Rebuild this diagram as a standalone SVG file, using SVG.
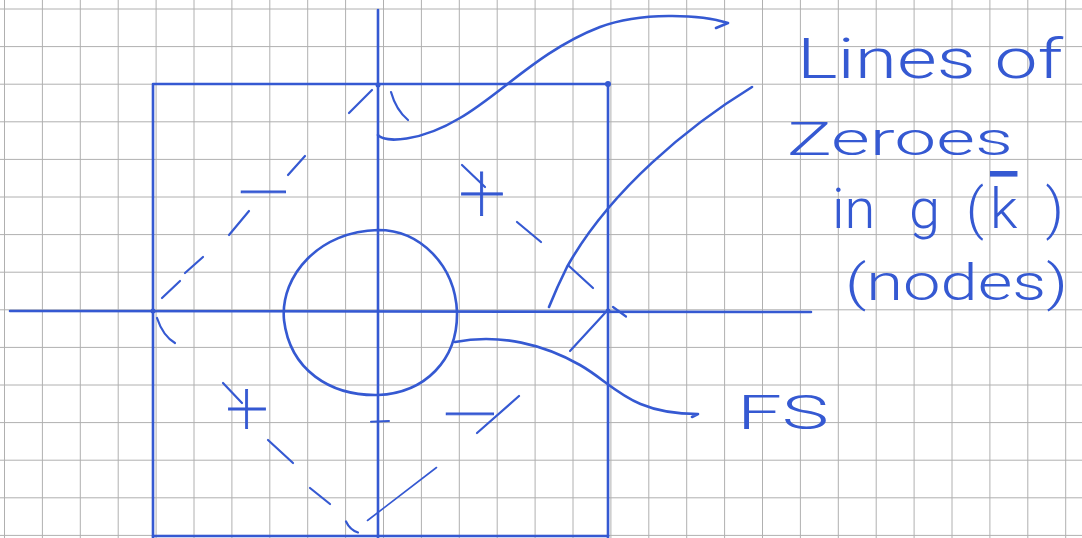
<svg xmlns="http://www.w3.org/2000/svg" width="1082" height="538" viewBox="0 0 1082 538">
  <style>
    .grid { stroke: #b0b0b0; stroke-width: 1; fill: none; }
    .ink { stroke: #3559d2; fill: none; stroke-linecap: round; stroke-linejoin: round; }
    .axis { stroke-width: 2.6; }
    .curve { stroke-width: 2.6; }
    .dash { stroke-width: 2.2; }
    .thin { stroke-width: 1.6; }
    .lbl { fill: #3559d2; font-family: Roboto, "Liberation Sans", sans-serif; font-weight: 300; }
    .sign { fill: #3559d2; stroke: #3559d2; stroke-width: 0.8; font-family: Roboto, "Liberation Sans", sans-serif; font-weight: 100; }
  </style>
  <rect width="1082" height="538" fill="#ffffff"/>
  <g id="grid">
    <path class="grid" d="M4.5 0V538M42.4 0V538M80.3 0V538M118.2 0V538M156.1 0V538M194 0V538M231.9 0V538M269.8 0V538M307.7 0V538M345.6 0V538M383.5 0V538M421.4 0V538M459.3 0V538M497.2 0V538M535.1 0V538M573 0V538M610.9 0V538M648.8 0V538M686.7 0V538M724.6 0V538M762.5 0V538M800.4 0V538M838.3 0V538M876.2 0V538M914.1 0V538M952 0V538M989.9 0V538M1027.8 0V538M1065.7 0V538"/>
    <path class="grid" d="M0 9H1082M0 46.6H1082M0 84.2H1082M0 121.8H1082M0 159.4H1082M0 197H1082M0 234.6H1082M0 272.2H1082M0 309.8H1082M0 347.4H1082M0 385H1082M0 422.6H1082M0 460.2H1082M0 497.8H1082M0 535.4H1082"/>
  </g>
  <g id="axes">
    <path class="ink axis" d="M378 10 L378 538"/>
    <path class="ink axis" d="M10 311 L811 312"/>
    <path class="ink" stroke-width="2" d="M371 421.7 L389 421"/>
  </g>
  <g id="zone">
    <path class="ink axis" d="M153 538 L153 84 L608 84 L608 538"/>
    <path class="ink axis" d="M153 536 L608 536"/>
    <circle cx="608" cy="84" r="3" fill="#3559d2"/>
    <circle cx="378" cy="85" r="2.5" fill="#3559d2"/>
    <circle cx="153" cy="311" r="2.5" fill="#3559d2"/>
    <circle cx="608" cy="311" r="2.5" fill="#3559d2"/>
  </g>
  <g id="fermi-surface">
    <path class="ink curve" d="M378 230 C420 230, 455 265, 457 312 C458 360, 425 393, 378 395 C330 396, 290 370, 284 320 C280 275, 320 231, 378 230 Z"/>
  </g>
  <g id="nodal-lines">
    <path class="ink dash" d="M372 90 L349 113"/>
    <path class="ink dash" d="M391 92 Q396 110 408 120"/>
    <path class="ink dash" d="M305 156 L288 175"/>
    <path class="ink dash" d="M249 211 L229 235"/>
    <path class="ink dash" d="M203 257 L185 273"/>
    <path class="ink dash" d="M180 281 L162 298"/>
    <path class="ink dash" d="M157 318 Q163 336 175 343"/>
    <path class="ink dash" d="M462 165 L485 187"/>
    <path class="ink dash" d="M517 222 L541 242"/>
    <path class="ink dash" d="M569 266 L593 288"/>
    <path class="ink dash" d="M613 307 L626 316.5"/>
    <path class="ink dash" d="M605 313 L570 351"/>
    <path class="ink dash" d="M519 396 L477 433"/>
    <path class="ink thin" d="M367.5 520.5 L436.5 467.5"/>
    <path class="ink dash" d="M223 383 L242 403"/>
    <path class="ink dash" d="M268 440 L293 463"/>
    <path class="ink dash" d="M310 488 L330 504"/>
    <path class="ink dash" d="M346 521.5 Q350 530 358 532.5"/>
  </g>
  <g id="signs">
    <text class="sign" x="0" y="0" font-size="72" text-anchor="middle" transform="translate(263.5 218) scale(1.5 1)">−</text>
    <text class="sign" x="482" y="222" font-size="84" text-anchor="middle">+</text>
    <text class="sign" x="247" y="434" font-size="76" text-anchor="middle">+</text>
    <text class="sign" x="0" y="0" font-size="72" text-anchor="middle" transform="translate(470 440) scale(1.6 1)">−</text>
  </g>
  <g id="connectors">
    <path class="ink curve" d="M378 135 C385 143, 420 142, 460 118 C500 95, 540 50, 600 27 C640 12, 700 14, 728 23 L716 28"/>
    <path class="ink curve" d="M752 87 C690 125, 610 190, 567 267 Q557 287, 549 307"/>
    <path class="ink curve" d="M455 342 C500 333, 545 345, 580 365 S630 414, 698 414 L692 417"/>
  </g>
  <g id="label-nodes">
    <text class="lbl" x="797" y="78" font-size="56" textLength="266" lengthAdjust="spacingAndGlyphs">Lines of</text>
    <text class="lbl" x="787" y="155" font-size="46" textLength="226" lengthAdjust="spacingAndGlyphs">Zeroes</text>
    <text class="lbl" x="832" y="228" font-size="56">in <tspan dx="20">g</tspan><tspan dx="26">(</tspan><tspan dx="6" text-decoration="overline">k</tspan><tspan dx="28">)</tspan></text>
    <text class="lbl" x="845" y="300" font-size="50" textLength="223" lengthAdjust="spacingAndGlyphs">(nodes)</text>
  </g>
  <g id="label-fs">
    <text class="lbl" x="737" y="429" font-size="49" textLength="92" lengthAdjust="spacingAndGlyphs">FS</text>
  </g>
</svg>
